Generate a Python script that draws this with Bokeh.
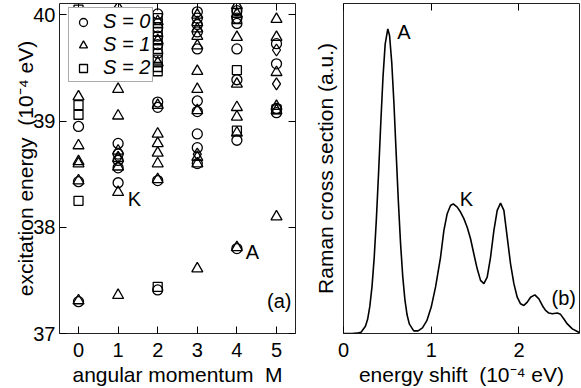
from bokeh.plotting import figure
from bokeh.models import Range1d, LinearAxis, FixedTicker, Label, Legend, LegendItem
from bokeh.layouts import row
from bokeh.embed import file_html
from bokeh.resources import INLINE

FONT = "Liberation Sans"

# ---------------- data: panel (a) ----------------
M_ticks = [0, 1, 2, 3, 4, 5]
E_ticks = [37, 38, 39, 40]

s0_M = [0, 0, 0,
        1, 1, 1, 1, 1,
        2, 2, 2, 2, 2, 2, 2, 2, 2,
        3, 3, 3, 3, 3, 3, 3, 3, 3, 3,
        4, 4, 4, 4, 4, 4, 4,
        5, 5, 5, 5]
s0_E = [37.30, 38.43, 38.95,
        38.42, 38.56, 38.63, 38.69, 38.79,
        37.41, 38.44, 39.13, 39.18, 39.64, 39.72, 39.80, 39.88, 40.01,
        38.60, 38.75, 38.88, 39.09, 39.19, 39.68, 39.84, 39.91, 39.97, 40.03,
        37.80, 38.82, 39.39, 39.68, 39.92, 39.97, 40.04,
        39.08, 39.12, 39.54, 39.73]

s1_M = [0, 0, 0, 0, 0, 0,
        1, 1, 1, 1, 1, 1, 1,
        2, 2, 2, 2, 2, 2, 2, 2, 2,
        3, 3, 3, 3, 3, 3, 3, 3, 3, 3, 3,
        4, 4, 4, 4, 4, 4, 4, 4,
        5, 5, 5, 5, 5, 5]
s1_E = [37.31, 38.44, 38.60, 38.62, 38.77, 39.23,
        37.36, 38.33, 38.57, 38.65, 38.72, 39.05, 39.30,
        38.45, 38.60, 38.70, 38.79, 38.88, 39.15, 39.55, 39.76, 39.94,
        37.61, 38.60, 38.66, 39.10, 39.30, 39.47, 39.71, 39.80, 39.87, 39.93, 40.00,
        37.81, 38.89, 39.04, 39.13, 39.35, 39.79, 40.01, 40.09,
        38.10, 39.10, 39.14, 39.46, 39.79, 39.96]

s2_M = [0, 0, 0, 0, 0,
        2, 2, 2, 2, 2, 2, 2, 2, 2,
        4, 4, 4, 4,
        5]
s2_E = [38.25, 39.06, 39.15, 40.01, 40.05,
        37.44, 39.47, 39.51, 39.58, 39.68, 39.76, 39.84, 39.92, 39.97,
        38.91, 39.48, 39.96, 40.02,
        39.11]

s3_M = [1, 1, 3, 5, 5]
s3_E = [40.07, 38.66, 38.69, 39.35, 39.67]

# ---------------- data: panel (b) ----------------
shift_ticks = [0, 1, 2]
raman_x = [0.0, 0.10, 0.15, 0.20, 0.25, 0.275, 0.30, 0.325, 0.35, 0.375, 0.40, 0.425,
           0.45, 0.475, 0.505, 0.525, 0.55, 0.575, 0.60, 0.625, 0.65, 0.675, 0.70, 0.725,
           0.75, 0.80, 0.85, 0.90, 0.95, 1.00, 1.05, 1.106, 1.144, 1.182, 1.220, 1.251,
           1.296, 1.334, 1.372, 1.410, 1.448, 1.486, 1.524, 1.562, 1.600, 1.638, 1.676,
           1.714, 1.752, 1.790, 1.828, 1.866, 1.904, 1.942, 1.980, 2.018, 2.056, 2.095,
           2.132, 2.181, 2.227, 2.266, 2.303, 2.341, 2.380, 2.437, 2.474, 2.512, 2.551,
           2.608, 2.665, 2.70]
raman_y = [0.0, 0.0, 0.001, 0.004, 0.022, 0.043, 0.082, 0.142, 0.230, 0.348, 0.488, 0.638,
           0.776, 0.877, 0.923, 0.903, 0.821, 0.697, 0.548, 0.402, 0.274, 0.174, 0.102, 0.056,
           0.029, 0.008, 0.008, 0.017, 0.039, 0.080, 0.142, 0.231, 0.312, 0.363, 0.388, 0.393,
           0.383, 0.368, 0.348, 0.322, 0.287, 0.241, 0.196, 0.161, 0.151, 0.171, 0.231,
           0.312, 0.373, 0.395, 0.373, 0.292, 0.211, 0.151, 0.110, 0.090, 0.085, 0.095,
           0.110, 0.117, 0.105, 0.085, 0.070, 0.062, 0.060, 0.062, 0.058, 0.044, 0.029,
           0.014, 0.006, 0.001]

NB = "\u00a0"


def style_axis(ax, ticks, standoff=5):
    ax.ticker = FixedTicker(ticks=ticks)
    ax.major_tick_in = 7
    ax.major_tick_out = 0
    ax.major_tick_line_color = "black"
    ax.major_tick_line_width = 1
    ax.minor_tick_line_color = None
    ax.axis_line_color = None
    ax.major_label_text_font = FONT
    ax.major_label_text_font_size = "20px"
    ax.major_label_text_color = "black"
    ax.major_label_standoff = standoff
    ax.axis_label_text_font = FONT
    ax.axis_label_text_font_size = "21px"
    ax.axis_label_text_font_style = "normal"
    ax.axis_label_text_color = "black"


def mirror(p, ticks, side):
    ax = LinearAxis()
    style_axis(ax, ticks, standoff=0)
    ax.major_label_overrides = {t: "" for t in ticks}
    ax.major_label_text_font_size = "1px"
    p.add_layout(ax, side)


def base_fig(width, xr, yr, left, right):
    p = figure(width=width, height=388, x_range=xr, y_range=yr,
               output_backend="svg", toolbar_location=None,
               min_border_left=left, min_border_right=right,
               min_border_top=3, min_border_bottom=55)
    p.xgrid.visible = False
    p.ygrid.visible = False
    p.outline_line_color = "#222222"
    p.outline_line_width = 1
    p.background_fill_color = "white"
    p.border_fill_color = "white"
    return p


# ---------------- panel (a) ----------------
p1 = base_fig(305, Range1d(-0.48, 5.48), Range1d(37, 40.108), 59, 10)
style_axis(p1.xaxis[0], M_ticks, standoff=9)
style_axis(p1.yaxis[0], E_ticks, standoff=4)
p1.xaxis.axis_label = "angular momentum " + NB + "M"
p1.yaxis.axis_label = "excitation energy " + NB + "(10\u207b\u2074 eV)"
p1.xaxis.axis_label_standoff = 3
p1.yaxis.axis_label_standoff = -7
mirror(p1, M_ticks, "above")
mirror(p1, E_ticks, "right")

mk = dict(fill_color=None, line_color="black", line_width=1.3)
r0 = p1.scatter(s0_M, s0_E, marker="circle", size=10, **mk)
r1 = p1.scatter(s1_M, s1_E, marker="triangle", size=11, **mk)
r2 = p1.scatter(s2_M, s2_E, marker="square", size=9, **mk)
p1.scatter(s3_M, s3_E, marker="diamond", size=12, **mk)

legend = Legend(items=[LegendItem(label="S = 0", renderers=[r0]),
                       LegendItem(label="S = 1", renderers=[r1]),
                       LegendItem(label="S = 2", renderers=[r2])],
                location=(9, 251))
legend.margin = 0
legend.padding = 2
legend.spacing = 0
legend.glyph_width = 24
legend.glyph_height = 20
legend.label_standoff = 8
legend.label_height = 18
legend.label_text_font = FONT
legend.label_text_font_size = "20px"
legend.label_text_line_height = 0.9
legend.label_text_font_style = "italic"
legend.label_text_color = "black"
legend.border_line_color = "#555555"
legend.border_line_width = 1
legend.background_fill_alpha = 1
p1.add_layout(legend)

for txt, x, y in [("K", 1.41, 38.27), ("A", 4.39, 37.77), ("(a)", 5.07, 37.31)]:
    p1.add_layout(Label(x=x, y=y, text=txt, text_font=FONT, text_font_size="20px",
                        text_align="center", text_baseline="middle", text_color="black"))

# ---------------- panel (b) ----------------
p2 = base_fig(276, Range1d(0, 2.69), Range1d(0, 1.0), 38, 2)
style_axis(p2.xaxis[0], shift_ticks, standoff=9)
style_axis(p2.yaxis[0], [], standoff=0)
p2.xaxis.axis_label = "energy shift " + NB + "(10\u207b\u2074 eV)"
p2.yaxis.axis_label = "Raman cross section (a.u.)"
p2.xaxis.axis_label_standoff = 3
p2.yaxis.axis_label_standoff = 7
mirror(p2, shift_ticks, "above")

p2.line(raman_x, raman_y, line_color="black", line_width=1.6)

for txt, x, y in [("A", 0.69, 0.915), ("K", 1.40, 0.409), ("(b)", 2.51, 0.109)]:
    p2.add_layout(Label(x=x, y=y, text=txt, text_font=FONT, text_font_size="20px",
                        text_align="center", text_baseline="middle", text_color="black"))

layout = row(p1, p2)
open("out.html", "w").write(file_html(layout, INLINE))
